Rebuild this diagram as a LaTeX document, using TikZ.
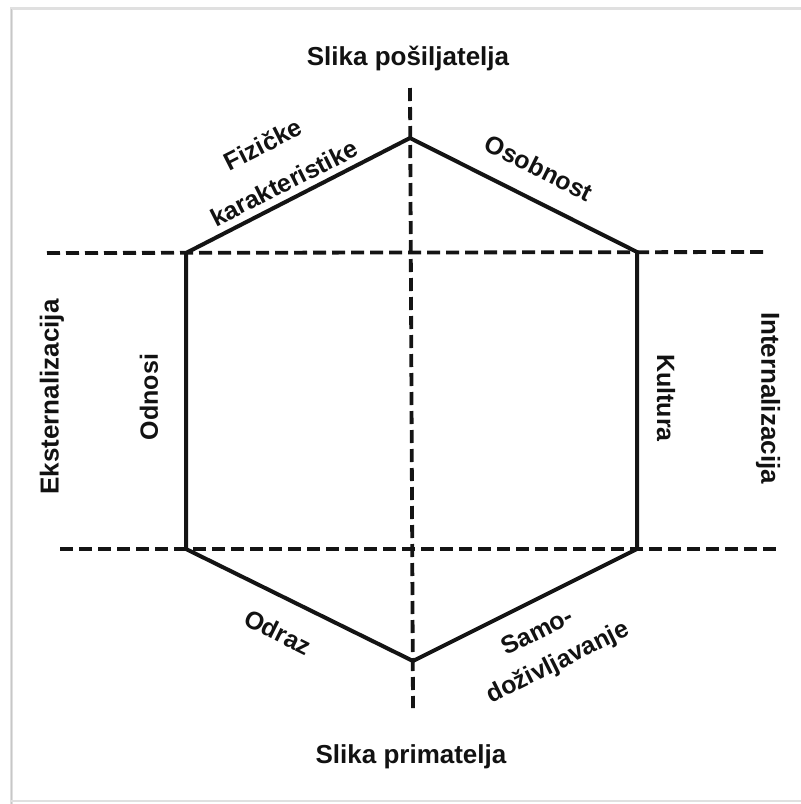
\documentclass[tikz,border=0pt]{standalone}
\usepackage{fontspec}
\setmainfont{Liberation Sans}
\begin{document}
\begin{tikzpicture}[x=1pt,y=-1pt,
  hexline/.style={line width=4pt,line join=miter,black!92},
  axisline/.style={line width=3.8pt,black!92,dash pattern=on 13pt off 6pt},
  lbl/.style={font=\fontsize{25}{28}\selectfont\bfseries,text=black!93,inner sep=0pt,align=center},
  biglbl/.style={font=\fontsize{26}{29}\selectfont\bfseries,text=black!93,inner sep=0pt}]
\useasboundingbox (0,0) rectangle (801,804);
% frame
\fill[white] (0,0) rectangle (801,804);
\draw[black!12,line width=3pt] (11,805) -- (11,8) -- (805,8);
\draw[black!22,line width=1.2pt] (11.5,805) -- (11.5,9);
\draw[black!12,line width=2pt] (11,801) -- (805,801);
% coordinates
\coordinate (vt) at (410,88);
\coordinate (vb) at (413,708);
\coordinate (h1l) at (47,253);
\coordinate (h1r) at (765,252);
\coordinate (h2l) at (60,549);
\coordinate (h2r) at (776,549);
\coordinate (top) at (410,138);
\coordinate (ur) at (637,252);
\coordinate (lr) at (637,549);
\coordinate (bot) at (413,661);
\coordinate (ll) at (186,549);
\coordinate (ul) at (186,253);
% dashed axes
\draw[axisline] (vt) -- (vb);
\draw[axisline] (h1l) -- (h1r);
\draw[axisline] (h2l) -- (h2r);
% hexagon
\draw[hexline] (top) -- (ur) -- (lr) -- (bot) -- (ll) -- (ul) -- cycle;
% labels
\node[biglbl] (sp) at (408,58) {Slika pošiljatelja};
\node[biglbl] (spr) at (411,757) {Slika primatelja};
\node[biglbl,rotate=90] (ext) at (52,397) {Eksternalizacija};
\node[biglbl,rotate=-90] (int) at (768,398) {Internalizacija};
\node[lbl,rotate=90] (odn) at (149,397) {Odnosi};
\node[lbl,rotate=-90] (kul) at (666,398) {Kultura};
\node[lbl,rotate=26.8] (fiz1) at (263,144) {Fizičke};
\node[lbl,rotate=26.8] (fiz2) at (284,183) {karakteristike};
\node[lbl,rotate=-26.5] (oso) at (539,168) {Osobnost};
\node[lbl,rotate=-26.5] (odr) at (278,632) {Odraz};
\node[lbl,rotate=26.5] (sam1) at (537,631) {Samo-};
\node[lbl,rotate=26.5] (sam2) at (558,663) {doživljavanje};
\end{tikzpicture}
\end{document}
